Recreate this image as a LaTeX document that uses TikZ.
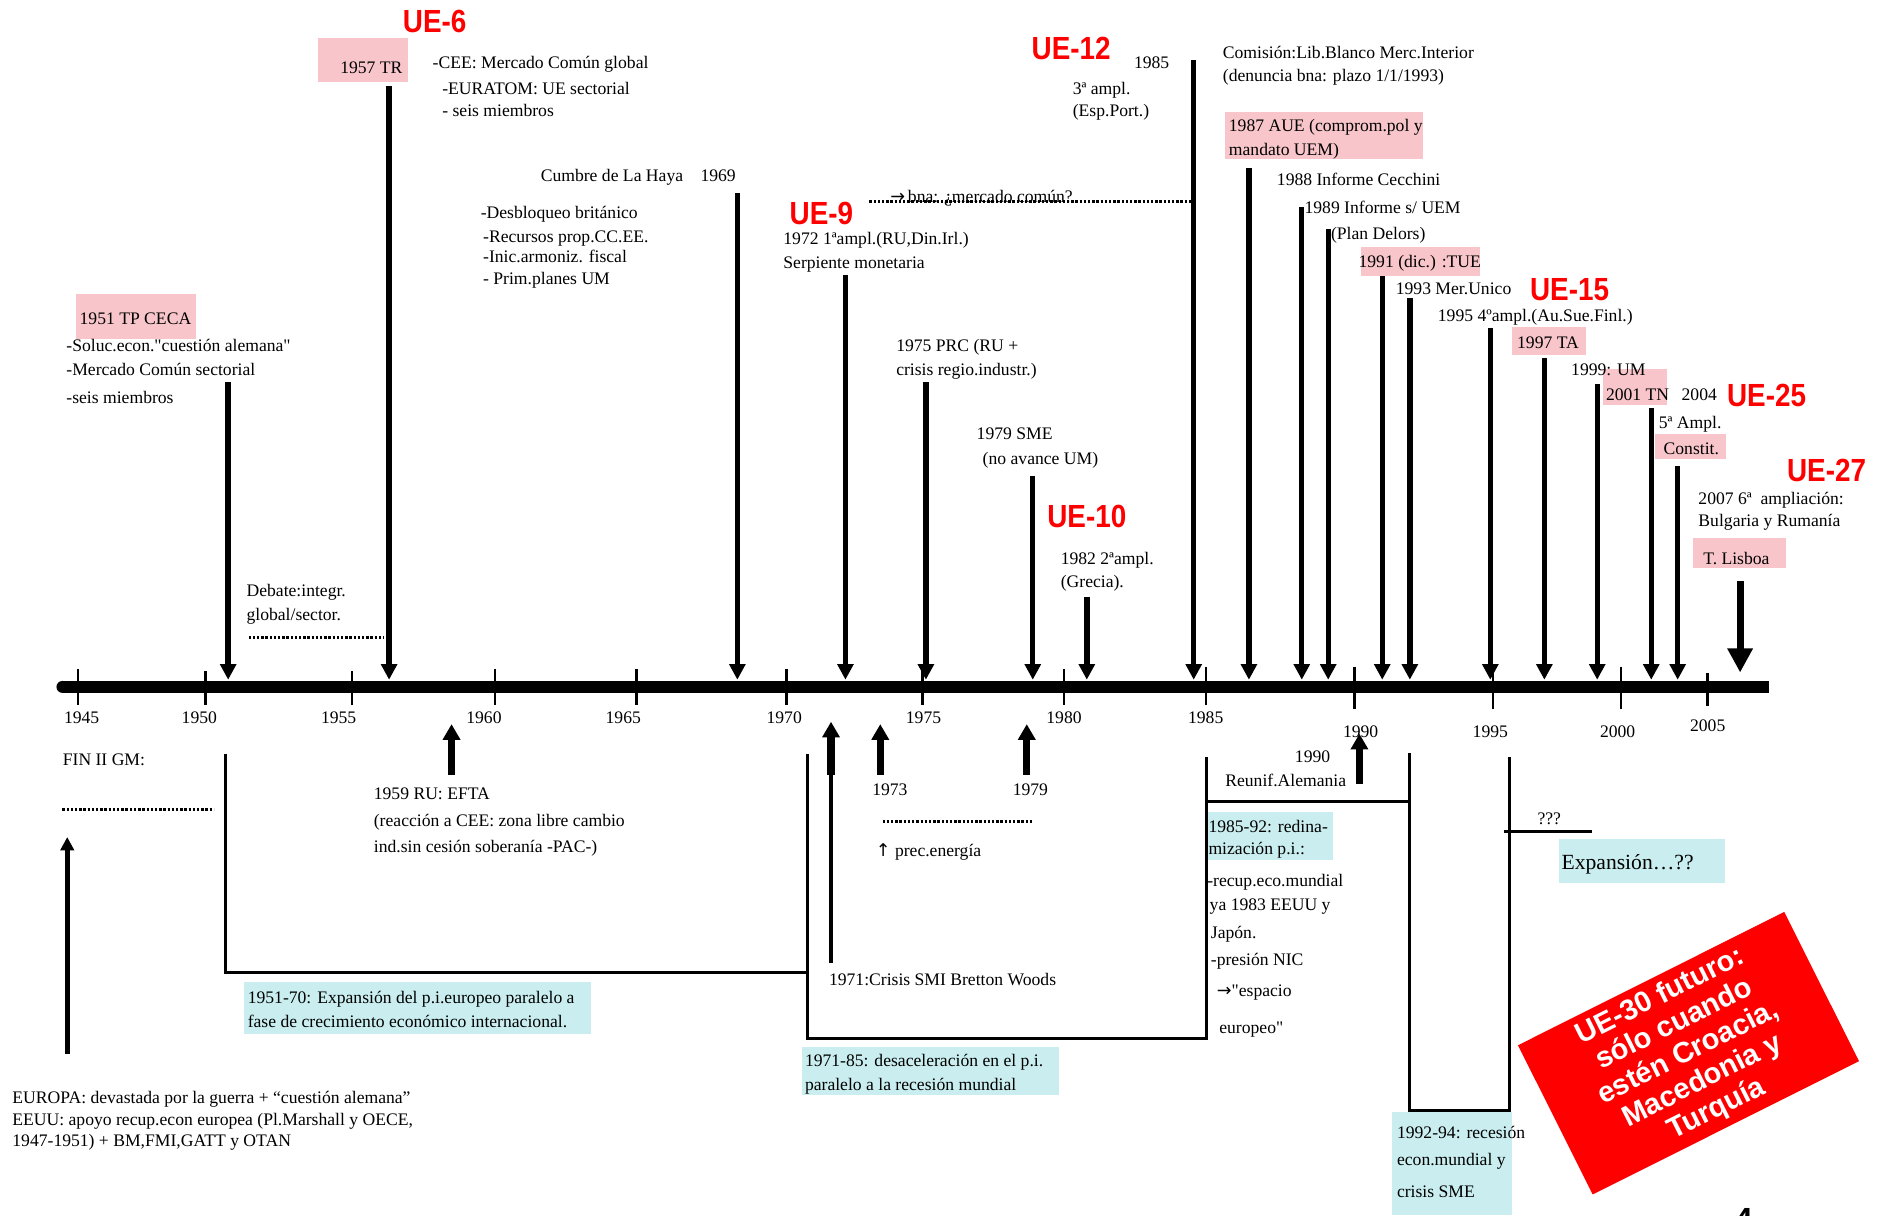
\documentclass[tikz,border=0pt]{standalone}
\usepackage{fontspec}
\setmainfont{Liberation Serif}[Ligatures=TeXOff]
\newfontfamily\uefont{Liberation Sans}[FakeStretch=0.87]
\newfontfamily\futfont{Liberation Sans}
\newfontfamily\arrowfont{DejaVu Sans}
\usetikzlibrary{arrows.meta}
\definecolor{uered}{RGB}{255,0,0}
\definecolor{pinkfill}{RGB}{248,198,202}
\definecolor{cyanfill}{RGB}{202,238,240}
\newcommand{\rarr}{{\arrowfont →}}
\newcommand{\uarr}{{\arrowfont ↑}}

\begin{document}
\begin{tikzpicture}[x=0.6pt, y=-0.6pt,
		txt/.style={anchor=mid west, inner sep=0pt, yshift=-1.2pt, font=\fontsize{8.8}{10.6}\selectfont},
		yearlabel/.style={anchor=mid, inner sep=0pt, yshift=-1.2pt, font=\fontsize{8.8}{10.6}\selectfont},
		ue/.style={inner sep=0pt, text=uered, font=\uefont\bfseries\fontsize{16}{18}\selectfont},
		pinkbox/.style={fill=pinkfill},
		cyanbox/.style={fill=cyanfill},
		arrdown/.style={line width=2.7pt, -{Triangle[length=7.8pt, width=7.8pt]}},
		arrup/.style={line width=3.6pt, -{Triangle[length=7.8pt, width=8.4pt]}},
		yeartick/.style={line width=1.2pt},
		dotline/.style={line width=1.6pt, dash pattern=on 1.2pt off 0.9pt},
		pline/.style={line width=1.5pt}]
	\useasboundingbox (0, 0) rectangle (1568, 1012);

	% highlighted boxes
	\fill [pinkbox] (265, 32) rectangle (340, 68);
	\fill [pinkbox] (63, 245) rectangle (163, 282);
	\fill [pinkbox] (1020, 93) rectangle (1185, 132);
	\fill [pinkbox] (1133, 206) rectangle (1232, 230);
	\fill [pinkbox] (1259, 272) rectangle (1321, 296);
	\fill [pinkbox] (1335, 307) rectangle (1388, 337);
	\fill [pinkbox] (1378, 361) rectangle (1437, 382);
	\fill [pinkbox] (1410, 448) rectangle (1487, 473);
	\fill [cyanbox] (203, 818) rectangle (492, 861);
	\fill [cyanbox] (668, 872) rectangle (882, 912);
	\fill [cyanbox] (1005, 676) rectangle (1110, 716);
	\fill [cyanbox] (1298, 699) rectangle (1436, 735);
	\fill [cyanbox] (1159, 926) rectangle (1259, 1012);

	% time axis
	\draw [line width=6pt] (52, 572) -- (1473, 572);
	\fill (52, 572) circle (3pt);
	\draw [yeartick] (65, 557) -- (65, 587);
	\draw [yeartick] (171, 559) -- (171, 587);
	\draw [yeartick] (293, 559) -- (293, 587);
	\draw [yeartick] (412, 557) -- (412, 587);
	\draw [yeartick] (530, 557) -- (530, 587);
	\draw [yeartick] (655, 557) -- (655, 587);
	\draw [yeartick] (768, 557) -- (768, 587);
	\draw [yeartick] (886, 557) -- (886, 587);
	\draw [yeartick] (1004, 555) -- (1004, 587);
	\draw [yeartick] (1128, 555) -- (1128, 590);
	\draw [yeartick] (1243, 555) -- (1243, 590);
	\draw [yeartick] (1350, 555) -- (1350, 590);
	\draw [yeartick] (1422, 560) -- (1422, 588);
	\draw (68, 597) node [yearlabel] (y45) {1945};
	\draw (166, 597) node [yearlabel] (y50) {1950};
	\draw (282, 597) node [yearlabel] (y55) {1955};
	\draw (403, 597) node [yearlabel] (y60) {1960};
	\draw (519, 597) node [yearlabel] (y65) {1965};
	\draw (653, 597) node [yearlabel] (y70) {1970};
	\draw (769, 597) node [yearlabel] (y75) {1975};
	\draw (886, 597) node [yearlabel] (y80) {1980};
	\draw (1004, 597) node [yearlabel] (y85) {1985};
	\draw (1133, 608) node [yearlabel] (y90) {1990};
	\draw (1241, 608) node [yearlabel] (y95) {1995};
	\draw (1347, 608) node [yearlabel] (y00) {2000};
	\draw (1422, 603) node [yearlabel] (y05) {2005};

	% events above the axis
	\draw [arrdown] (190, 318) -- (190, 566);
	\draw [arrdown] (324, 72) -- (324, 566);
	\draw [arrdown] (614, 161) -- (614, 566);
	\draw [arrdown] (704, 229) -- (704, 566);
	\draw [arrdown] (771, 318) -- (771, 566);
	\draw [arrdown] (860, 396) -- (860, 566);
	\draw [arrdown] (905, 497) -- (905, 566);
	\draw [arrdown] (994, 50) -- (994, 566);
	\draw [arrdown] (1040, 140) -- (1040, 566);
	\draw [arrdown] (1084, 172) -- (1084, 566);
	\draw [arrdown] (1106, 191) -- (1106, 566);
	\draw [arrdown] (1151, 230) -- (1151, 566);
	\draw [arrdown] (1174, 248) -- (1174, 566);
	\draw [arrdown] (1241, 273) -- (1241, 566);
	\draw [arrdown] (1286, 298) -- (1286, 566);
	\draw [arrdown] (1330, 320) -- (1330, 566);
	\draw [arrdown] (1375, 340) -- (1375, 566);
	\draw [arrdown] (1397, 388) -- (1397, 566);
	\draw [line width=3.6pt, -{Triangle[length=12pt, width=12pt]}] (1449, 484) -- (1449, 560);

	% events below the axis
	\draw [arrup] (376, 645) -- (376, 603);
	\draw [line width=2.4pt] (692, 802) -- (692, 640);
	\draw [arrup] (692, 645) -- (692, 601);
	\draw [arrup] (733, 645) -- (733, 603);
	\draw [arrup] (855, 645) -- (855, 603);
	\draw [arrup] (1132, 653) -- (1132, 611);
	\draw [line width=2.4pt, -{Triangle[length=6.6pt, width=6.6pt]}] (56, 878) -- (56, 697);

	\draw [dotline] (207, 531) -- (320, 531);
	\draw [dotline] (52, 674) -- (178, 674);
	\draw [dotline] (735, 684) -- (860, 684);
	\draw [dotline] (724, 168) -- (992, 168);

	% p.i. curve
	\draw [pline] (188, 628) -- (188, 810) -- (672, 810);
	\draw [pline] (672, 628) -- (672, 865) -- (1005, 865) -- (1005, 630);
	\draw [pline] (1005, 667) -- (1174, 667);
	\draw [pline] (1174, 627) -- (1174, 925) -- (1257, 925) -- (1257, 630);
	\draw [pline] (1252, 692) -- (1326, 692);

	% enlargements
	\draw (362, 18) node [ue] (ue6) {UE-6};
	\draw (892, 40) node [ue] (ue12) {UE-12};
	\draw (684, 178) node [ue] (ue9) {UE-9};
	\draw (905, 430) node [ue] (ue10) {UE-10};
	\draw (1307, 241) node [ue] (ue15) {UE-15};
	\draw (1471, 329) node [ue] (ue25) {UE-25};
	\draw (1521, 392) node [ue] (ue27) {UE-27};

	% texts above
	\draw (283, 55) node [txt] (tr) {1957 TR};
	\draw (360, 51) node [txt] (tr1) {-CEE: Mercado Común global};
	\draw (368, 73) node [txt] (tr2) {-EURATOM: UE sectorial};
	\draw (368, 91) node [txt] (tr3) {- seis miembros};
	\draw (450, 145) node [txt] (haya) {Cumbre de La Haya};
	\draw (583, 145) node [txt] (haya0) {1969};
	\draw (400, 176) node [txt] (haya1) {-Desbloqueo británico};
	\draw (402, 196) node [txt] (haya2) {-Recursos prop.CC.EE.};
	\draw (402, 213) node [txt] (haya3) {-Inic.armoniz. fiscal};
	\draw (402, 231) node [txt] (haya4) {- Prim.planes UM};
	\draw (66, 264) node [txt] (ceca) {1951 TP CECA};
	\draw (55, 287) node [txt] (ceca1) {-Soluc.econ."cuestión alemana"};
	\draw (55, 307) node [txt] (ceca2) {-Mercado Común sectorial};
	\draw (55, 330) node [txt] (ceca3) {-seis miembros};
	\draw (205, 491) node [txt] (debate1) {Debate:integr.};
	\draw (205, 511) node [txt] (debate2) {global/sector.};
	\draw (741, 163) node [txt] (bna) {\rarr\,bna: ¿mercado común?};
	\draw (652, 198) node [txt] (ampl1) {1972 1ªampl.(RU,Din.Irl.)};
	\draw (652, 218) node [txt] (ampl1b) {Serpiente monetaria};
	\draw (746, 287) node [txt] (prc1) {1975 PRC (RU +};
	\draw (746, 307) node [txt] (prc2) {crisis regio.industr.)};
	\draw (813, 360) node [txt] (sme1) {1979 SME};
	\draw (818, 381) node [txt] (sme2) {(no avance UM)};
	\draw (883, 464) node [txt] (grecia1) {1982 2ªampl.};
	\draw (883, 483) node [txt] (grecia2) {(Grecia).};
	\draw (944, 51) node [txt] (y1985) {1985};
	\draw (893, 73) node [txt] (ampl2a) {3ª ampl.};
	\draw (893, 91) node [txt] (ampl2b) {(Esp.Port.)};
	\draw (1018, 43) node [txt] (libro1) {Comisión:Lib.Blanco Merc.Interior};
	\draw (1018, 62) node [txt] (libro2) {(denuncia bna: plazo 1/1/1993)};
	\draw (1023, 104) node [txt] (aue1) {1987 AUE (comprom.pol y};
	\draw (1023, 124) node [txt] (aue2) {mandato UEM)};
	\draw (1063, 149) node [txt] (cecchini) {1988 Informe Cecchini};
	\draw (1086, 172) node [txt] (delors1) {1989 Informe s/ UEM};
	\draw (1108, 194) node [txt] (delors2) {(Plan Delors)};
	\draw (1131, 217) node [txt] (tue) {1991 (dic.) :TUE};
	\draw (1162, 239) node [txt] (merunico) {1993 Mer.Unico};
	\draw (1197, 262) node [txt] (ampl4) {1995 4ºampl.(Au.Sue.Finl.)};
	\draw (1263, 284) node [txt] (ta) {1997 TA};
	\draw (1308, 307) node [txt] (um) {1999: UM};
	\draw (1337, 328) node [txt] (tn) {2001 TN};
	\draw (1400, 328) node [txt] (y2004) {2004};
	\draw (1381, 351) node [txt] (ampl5) {5ª Ampl.};
	\draw (1385, 373) node [txt] (constit) {Constit.};
	\draw (1414, 414) node [txt] (ampl6a) {2007 6ª\ \ ampliación:};
	\draw (1414, 433) node [txt] (ampl6b) {Bulgaria y Rumanía};
	\draw (1418, 464) node [txt] (lisboa) {T. Lisboa};

	% texts below
	\draw (52, 632) node [txt] (fingm) {FIN II GM:};
	\draw (311, 660) node [txt] (efta1) {1959 RU: EFTA};
	\draw (311, 682) node [txt] (efta2) {(reacción a CEE: zona libre cambio};
	\draw (311, 704) node [txt] (efta3) {ind.sin cesión soberanía -PAC-)};
	\draw (726, 657) node [txt] (y1973) {1973};
	\draw (843, 657) node [txt] (y1979) {1979};
	\draw (729, 707) node [txt] (energia) {\uarr\ prec.energía};
	\draw (1078, 629) node [txt] (reunif1) {1990};
	\draw (1020, 649) node [txt] (reunif2) {Reunif.Alemania};
	\draw (1006, 687) node [txt] (redin1) {1985-92: redina-};
	\draw (1006, 706) node [txt] (redin2) {mización p.i.:};
	\draw (1005, 732) node [txt] (recup1) {-recup.eco.mundial};
	\draw (1007, 752) node [txt] (recup2) {ya 1983 EEUU y};
	\draw (1008, 776) node [txt] (recup3) {Japón.};
	\draw (1008, 798) node [txt] (recup4) {-presión NIC};
	\draw (1013, 824) node [txt] (recup5) {\rarr"espacio};
	\draw (1015, 855) node [txt] (recup6) {europeo"};
	\draw (690, 815) node [txt] (bretton) {1971:Crisis SMI Bretton Woods};
	\draw (1280, 681) node [txt] (qqq) {???};
	\draw (1300, 718) node [txt, font=\fontsize{10.8}{13}\selectfont] (expansion) {Expansión…??};
	\draw (206, 830) node [txt] (exp1) {1951-70: Expansión del p.i.europeo paralelo a};
	\draw (206, 850) node [txt] (exp2) {fase de crecimiento económico internacional.};
	\draw (670, 882) node [txt] (desac1) {1971-85: desaceleración en el p.i.};
	\draw (670, 902) node [txt] (desac2) {paralelo a la recesión mundial};
	\draw (1163, 942) node [txt] (recesion1) {1992-94: recesión};
	\draw (1163, 965) node [txt] (recesion2) {econ.mundial y};
	\draw (1163, 991) node [txt] (recesion3) {crisis SME};
	\draw (10, 913) node [txt] (europa1) {EUROPA: devastada por la guerra + “cuestión alemana”};
	\draw (10, 931) node [txt] (europa2) {EEUU: apoyo recup.econ europea (Pl.Marshall y OECE,};
	\draw (10, 949) node [txt] (europa3) {1947-1951) + BM,FMI,GATT y OTAN};

	% future
	\draw (1406, 877) node [rotate=26.6, fill=uered, minimum width=148.8pt, minimum height=82.8pt, align=center, text=white, font=\futfont\bfseries\fontsize{14.5}{15.8}\selectfont] (futuro) {UE-30 futuro:\\sólo cuando\\estén Croacia,\\Macedonia y\\Turquía};
	\draw (1452, 1006) node [anchor=north, inner sep=0pt, font=\futfont\bfseries\fontsize{16}{18}\selectfont] (pagenum) {4};
\end{tikzpicture}
\end{document}
